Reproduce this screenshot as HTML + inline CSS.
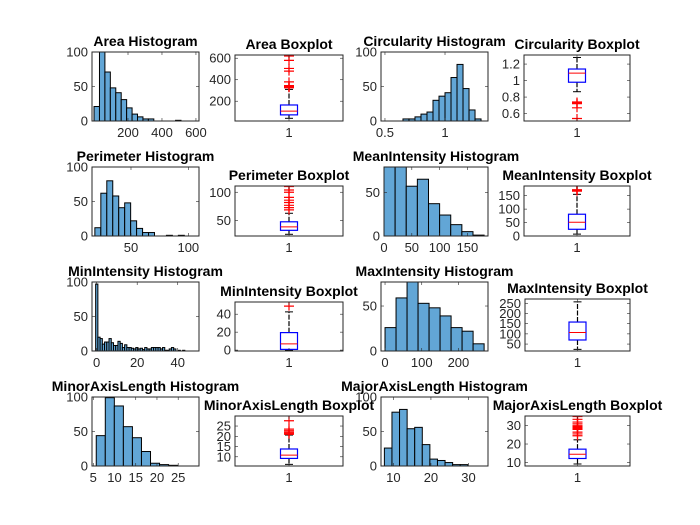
<!DOCTYPE html>
<html><head><meta charset="utf-8"><style>
html,body{margin:0;padding:0;background:#fff;}
svg{display:block;font-family:"Liberation Sans",Arial,sans-serif;}
.tk{font-size:13px;fill:#262626;}
.tt{font-size:14px;font-weight:bold;fill:#000;}
</style></head><body>
<svg id="fig" width="700" height="525" viewBox="0 0 700 525"></svg>
<script>
// ---------- histogram data (bin start, bin width, counts) ----------
const areaStart=0, areaWidth=32;
const areaCounts=[21,100,71,48,41,31,19,10,6,3,3,0,0,0,0,1];
const circStart=0.65, circWidth=0.05;
const circCounts=[3,3,6,10,13,30,36,41,63,82,47,16,3];
const perStart=18.5, perWidth=5.2;
const perCounts=[12,62,80,58,41,48,22,11,5,5,0,0,1,0,1];
const meanStart=0, meanWidth=20;
const meanCounts=[95,88,57,65,37,24,13,5,1];
const minStart=-0.5, minWidth=1.1;
const minCounts=[97,20,18,10,13,13,18,12,8,8,14,11,5,9,5,5,4,3,5,3,4,2,5,3,3,5,5,5,5,3,5,1,1,3,5,3,0,1,0,1];
const maxStart=0, maxWidth=30;
const maxCounts=[26,59,85,53,48,39,26,22,8];
const minorStart=5.7, minorWidth=2.13;
const minorCounts=[44,99,87,57,41,21,4,2,1];
const majorStart=7.6, majorWidth=2.02;
const majorCounts=[26,78,82,54,56,31,10,8,5,2,2];
// ---------- boxplot stats [lowWhisker, q1, median, q3, highWhisker] ----------
const areaStats=[41,73,108,165,310];
const areaOutliers=[325,330,335,340,345,380,480,505,580,620];
const circStats=[0.865,0.98,1.09,1.14,1.28];
const circOutliers=[0.72,0.73,0.74,0.67,0.54];
const perStats=[26,33,39,48,63];
const perOutliers=[69,73,77,82,86,91,100,104,110];
const meanStats=[7,25,51,81,155];
const meanOutliers=[167,168,169,170,172];
const minStats=[0,0.8,7,19.5,42.6];
const minOutliers=[49];
const maxStats=[24,70,107,158,257];
const maxOutliers=[];
const minorStats=[6.3,9.2,10.8,13.8,20.6];
const minorOutliers=[21,21.5,22,22.7,23.5,27.6];
const majorStats=[9.1,12.1,14.4,17.2,22.3];
const majorOutliers=[24.5,25.5,26.5,28,28.5,29,29.5,30,31,32,33.5,35];
// ---------- tick labels ----------
const areaHX=[200,400,600], areaHY=[0,50,100], areaBY=[200,400,600];
const circHX=[0.5,1], circHY=[0,50,100], circBY=[0.6,0.8,1,1.2];
const perHX=[50,100], perHY=[0,50,100], perBY=[50,100];
const meanHX=[0,50,100,150], meanHY=[0,50], meanBY=[0,50,100,150];
const minHX=[0,20,40], minHY=[0,50,100], minBY=[0,20,40];
const maxHX=[0,100,200], maxHY=[0,50], maxBY=[50,100,150,200,250];
const minorHX=[5,10,15,20,25], minorHY=[0,50,100], minorBY=[10,15,20,25];
const majorHX=[10,20,30], majorHY=[0,50,100], majorBY=[10,20,30];

const NS="http://www.w3.org/2000/svg";
const svg=document.getElementById('fig');
let clipId=0;
function mk(tag,attrs,parent){const e=document.createElementNS(NS,tag);for(const k in attrs)e.setAttribute(k,attrs[k]);(parent||svg).appendChild(e);return e;}
function sx(ax,v){return ax.l+(v-ax.x0)/(ax.x1-ax.x0)*(ax.r-ax.l);}
function sy(ax,v){return ax.b-(v-ax.y0)/(ax.y1-ax.y0)*(ax.b-ax.t);}
function fmt(v){return String(v);}

function axesFrame(ax,name,title,xt,yt){
  const g=mk('g',{});
  
  
  const cid='c'+(clipId++);
  const cp=mk('clipPath',{id:cid},g);
  mk('rect',{x:ax.l,y:ax.t,width:ax.r-ax.l,height:ax.b-ax.t},cp);
  const plot=mk('g',{'clip-path':'url(#'+cid+')'},g);
  
  
  ax.g=g; ax.plot=plot;
  xt.forEach(v=>{
    const x=sx(ax,v);
    mk('line',{x1:x,x2:x,y1:ax.b,y2:ax.b-3,stroke:'#262626','stroke-width':0.6},g);
    mk('line',{x1:x,x2:x,y1:ax.t,y2:ax.t+3,stroke:'#262626','stroke-width':0.6},g);
    const t=mk('text',{x:x,y:ax.b+16,'text-anchor':'middle',class:'tk'},g);
    t.textContent=fmt(v);
    
    
  });
  yt.forEach(v=>{
    const y=sy(ax,v);
    mk('line',{x1:ax.l,x2:ax.l+3,y1:y,y2:y,stroke:'#262626','stroke-width':0.6},g);
    mk('line',{x1:ax.r,x2:ax.r-3,y1:y,y2:y,stroke:'#262626','stroke-width':0.6},g);
    const t=mk('text',{x:ax.l-4,y:y+4.5,'text-anchor':'end',class:'tk'},g);
    t.textContent=fmt(v);
    
    
  });
  const tt=mk('text',{x:(ax.l+ax.r)/2,y:ax.t-6,'text-anchor':'middle',class:'tt'},g);
  tt.textContent=title;
  
  
}
function frameBox(ax){
  mk('rect',{x:ax.l,y:ax.t,width:ax.r-ax.l,height:ax.b-ax.t,fill:'none',stroke:'#262626','stroke-width':1},ax.g);
}
function histogram(ax,name,title,start,width,counts,xt,yt){
  axesFrame(ax,name,title,xt,yt);
  counts.forEach((c,i)=>{
    if(c<=0)return;
    const x0=sx(ax,start+i*width), x1=sx(ax,start+(i+1)*width);
    const y=sy(ax,c);
    const r=mk('rect',{x:x0,y:y,width:x1-x0,height:ax.b-y,fill:'#62a6d6',stroke:'#000','stroke-width':1},ax.plot);
    
    
  });
  frameBox(ax);
}
function boxplot(ax,name,title,stats,outliers,yt){
  ax.x0=0.5; ax.x1=1.5;
  axesFrame(ax,name,title,[1],yt);
  const cx=sx(ax,1), hw=8.5, cw=4;
  const [lo,q1,md,q3,hi]=stats;
  const p=ax.plot;
  const w1=mk('line',{x1:cx,x2:cx,y1:sy(ax,q3),y2:sy(ax,hi),stroke:'#000','stroke-width':1.2,'stroke-dasharray':'5,1.5'},p);
  
  
  const w2=mk('line',{x1:cx,x2:cx,y1:sy(ax,q1),y2:sy(ax,lo),stroke:'#000','stroke-width':1.2,'stroke-dasharray':'5,1.5'},p);
  
  
  mk('line',{x1:cx-cw,x2:cx+cw,y1:sy(ax,hi),y2:sy(ax,hi),stroke:'#000','stroke-width':1},p);
  mk('line',{x1:cx-cw,x2:cx+cw,y1:sy(ax,lo),y2:sy(ax,lo),stroke:'#000','stroke-width':1},p);
  const b=mk('rect',{x:cx-hw,y:sy(ax,q3),width:2*hw,height:sy(ax,q1)-sy(ax,q3),fill:'none',stroke:'#0000ff','stroke-width':1.2},p);
  
  
  const m=mk('line',{x1:cx-hw,x2:cx+hw,y1:sy(ax,md),y2:sy(ax,md),stroke:'#ff0000','stroke-width':1},p);
  
  
  outliers.forEach(v=>{
    const y=sy(ax,v);
    const o=mk('path',{d:`M${cx-5},${y}H${cx+5}M${cx},${y-4.5}V${y+4.5}`,stroke:'#ff0000','stroke-width':1.2,fill:'none'},p);
    
    
  });
  frameBox(ax);
}

histogram({l:92,r:199,t:52,b:121,x0:-12,x1:618,y0:0,y1:100},'area-histogram','Area Histogram',areaStart,areaWidth,areaCounts,areaHX,areaHY);
boxplot({l:235,r:343,t:55,b:121,y0:16,y1:630},'area-boxplot','Area Boxplot',areaStats,areaOutliers,areaBY);
histogram({l:381,r:488,t:52,b:121,x0:0.467,x1:1.358,y0:0,y1:100},'circularity-histogram','Circularity Histogram',circStart,circWidth,circCounts,circHX,circHY);
boxplot({l:524,r:630,t:55,b:121,y0:0.51,y1:1.31},'circularity-boxplot','Circularity Boxplot',circStats,circOutliers,circBY);

histogram({l:92,r:199,t:167,b:236,x0:16,x1:109.3,y0:0,y1:100},'perimeter-histogram','Perimeter Histogram',perStart,perWidth,perCounts,perHX,perHY);
boxplot({l:235,r:343,t:186,b:236,y0:23,y1:111},'perimeter-boxplot','Perimeter Boxplot',perStats,perOutliers,perBY);
histogram({l:384,r:488,t:167,b:236,x0:0,x1:187,y0:0,y1:79},'meanintensity-histogram','MeanIntensity Histogram',meanStart,meanWidth,meanCounts,meanHX,meanHY);
boxplot({l:524,r:630,t:186,b:236,y0:0,y1:186},'meanintensity-boxplot','MeanIntensity Boxplot',meanStats,meanOutliers,meanBY);

histogram({l:92,r:199,t:282,b:351,x0:-2.3,x1:50.5,y0:0,y1:100},'minintensity-histogram','MinIntensity Histogram',minStart,minWidth,minCounts,minHX,minHY);
boxplot({l:235,r:343,t:302,b:351,y0:-1,y1:53.6},'minintensity-boxplot','MinIntensity Boxplot',minStats,minOutliers,minBY);
histogram({l:381,r:488,t:282,b:351,x0:-11,x1:280.6,y0:0,y1:76.7},'maxintensity-histogram','MaxIntensity Histogram',maxStart,maxWidth,maxCounts,maxHX,maxHY);
boxplot({l:525,r:630,t:299,b:351,y0:16,y1:271},'maxintensity-boxplot','MaxIntensity Boxplot',maxStats,maxOutliers,maxBY);

histogram({l:92,r:199,t:397,b:466,x0:4.7,x1:29.9,y0:0,y1:100},'minoraxislength-histogram','MinorAxisLength Histogram',minorStart,minorWidth,minorCounts,minorHX,minorHY);
boxplot({l:235,r:343,t:416,b:466,y0:5.5,y1:29.9},'minoraxislength-boxplot','MinorAxisLength Boxplot',minorStats,minorOutliers,minorBY);
histogram({l:381,r:488,t:397,b:466,x0:6.7,x1:35.2,y0:0,y1:100},'majoraxislength-histogram','MajorAxisLength Histogram',majorStart,majorWidth,majorCounts,majorHX,majorHY);
boxplot({l:525,r:630,t:416,b:466,y0:8,y1:35.3},'majoraxislength-boxplot','MajorAxisLength Boxplot',majorStats,majorOutliers,majorBY);
</script>
</body></html>
